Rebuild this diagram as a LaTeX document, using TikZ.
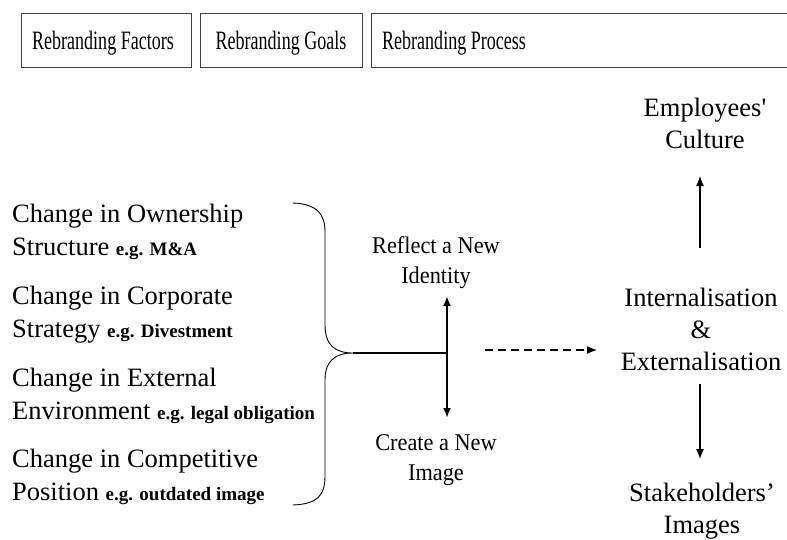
\documentclass[tikz,border=0pt]{standalone}
\usepackage{fontspec}
\setmainfont{Liberation Serif}
\usetikzlibrary{arrows.meta}
\begin{document}
\begin{tikzpicture}[x=1pt,y=-1pt,
  hbox/.style={draw=black!75,line width=0.8pt,minimum height=54pt,inner sep=0pt,anchor=north west},
  htxt/.style={inner sep=0pt,anchor=base},
  txt/.style={font=\fontsize{26.5}{32}\selectfont,align=center,inner sep=0pt,anchor=base},
  gtxt/.style={font=\fontsize{24}{30}\selectfont,align=center,inner sep=0pt,anchor=base},
  ltxt/.style={font=\fontsize{26.5}{32.5}\selectfont,align=left,inner sep=0pt,anchor=base west},
  arr/.style={-{Latex[length=10pt,width=8pt]},line width=1.3pt},
  tree/.style={line width=2pt}]
\useasboundingbox (0,0) rectangle (787,539);
\newcommand{\egx}[1]{{\fontsize{19}{19}\selectfont\bfseries #1}}
\newcommand{\hdr}[1]{\scalebox{0.68}[1]{\fontsize{26.5}{30}\selectfont #1}}
\newcommand{\gx}[1]{\scalebox{0.93}[1]{#1}}
% header boxes
\node[hbox,minimum width=170pt] (hf) at (21,13) {};
\node[hbox,minimum width=162pt] (hg) at (200,13) {};
\node[hbox,minimum width=430pt] (hp) at (371,13) {};
\node[htxt] (hft) at (103,49) {\hdr{Rebranding Factors}};
\node[htxt] (hgt) at (281,49) {\hdr{Rebranding Goals}};
\node[htxt,anchor=base west] (hpt) at (382,49) {\hdr{Rebranding Process}};
% factors (anchor = baseline of last line)
\node[ltxt] (f1) at (12,255) {Change in Ownership\\Structure \egx{e.g. M\&A}};
\node[ltxt] (f2) at (12,337) {Change in Corporate\\Strategy \egx{e.g. Divestment}};
\node[ltxt] (f3) at (12,419) {Change in External\\Environment \egx{e.g. legal obligation}};
\node[ltxt] (f4) at (12,500) {Change in Competitive\\Position \egx{e.g. outdated image}};
% brace
\coordinate (tip) at (353,353);
\draw[line width=0.9pt] (293,203) .. controls (318,204) and (325,215) .. (325,232)
  -- (325,325) .. controls (325,345) and (335,353) .. (tip)
  .. controls (335,353) and (325,361) .. (325,380)
  -- (325,476) .. controls (325,495) and (318,504) .. (293,505);
% goals
\node[gtxt] (g1) at (436,283) {\gx{Reflect a New}\\\gx{Identity}};
\node[gtxt] (g2) at (436,480) {\gx{Create a New}\\\gx{Image}};
\coordinate (junc) at (447,353);
\coordinate (g1end) at (447,296);
\coordinate (g2end) at (447,418);
\draw[tree] (tip) -- (junc);
\draw[arr,line width=2pt] (junc) -- (g1end);
\draw[arr,line width=2pt] (junc) -- (g2end);
% process
\node[txt] (p) at (701,370) {Internalisation\\\&\\Externalisation};
\node[txt] (emp) at (705,148) {Employees\textquotesingle\\Culture};
\node[txt] (sta) at (702,533) {Stakeholders’\\Images};
\coordinate (ds) at (485,350);
\coordinate (de) at (597,350);
\coordinate (pu) at (700,248);
\coordinate (eu) at (700,176);
\coordinate (pd) at (700,384);
\coordinate (sd) at (700,459);
\draw[arr,dash pattern=on 8pt off 5pt] (ds) -- (de);
\draw[arr] (pu) -- (eu);
\draw[arr] (pd) -- (sd);
\end{tikzpicture}
\end{document}
